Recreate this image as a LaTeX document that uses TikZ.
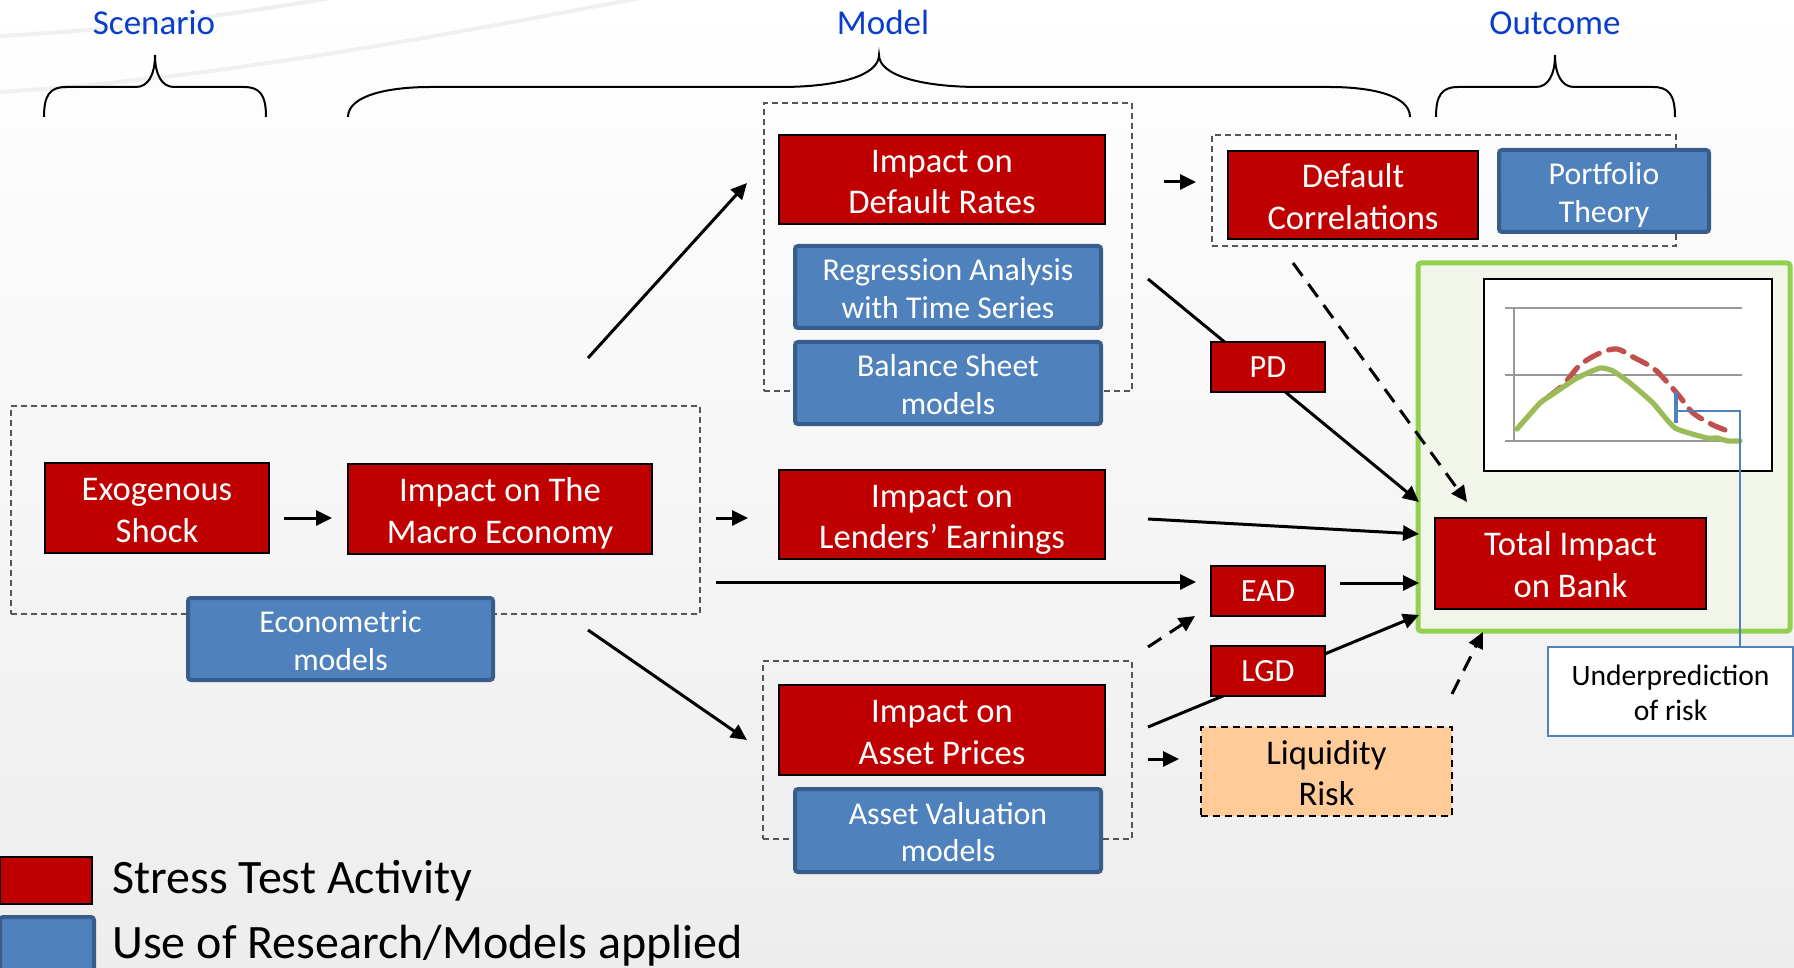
\documentclass[tikz,border=0pt]{standalone}
\usepackage{fontspec}
\setmainfont{Carlito}
\usetikzlibrary{arrows.meta}
\definecolor{stred}{HTML}{C00000}
\definecolor{stblue}{HTML}{4F81BD}
\definecolor{stbluedk}{HTML}{385D8A}
\definecolor{ttlblue}{HTML}{0A3DCC}
\definecolor{bgbot}{HTML}{EDEDED}
\definecolor{grfill}{HTML}{F1F5EA}
\definecolor{grline}{HTML}{92D050}
\definecolor{liqfill}{HTML}{FFCC99}
\definecolor{chgreen}{HTML}{9BBB59}
\definecolor{chred}{HTML}{C0504D}
\definecolor{dboxcol}{HTML}{555555}
\newcommand{\ta}{\rule{0pt}{1.02em}}
\newcommand{\tb}{\rule[-0.24em]{0pt}{0.24em}}
\begin{document}
\begin{tikzpicture}[x=0.5pt,y=-0.5pt,
  redbox/.style={fill=stred,draw=black,line width=1pt,text=white,align=center,inner sep=0pt,
    font=\fontsize{17.3pt}{20.7pt}\selectfont},
  smallred/.style={redbox,font=\fontsize{16.2pt}{19pt}\selectfont},
  bluebox/.style={fill=stblue,draw=stbluedk,line width=2pt,rounded corners=1.5pt,text=white,align=center,inner sep=0pt,
    font=\fontsize{15.9pt}{18.9pt}\selectfont},
  dbox/.style={draw=dboxcol,line width=0.75pt,dash pattern=on 3pt off 2pt,inner sep=0pt},
  title/.style={text=ttlblue,font=\fontsize{17.5pt}{20pt}\selectfont,anchor=base},
  brace/.style={draw=black,line width=1pt},
  arr/.style={draw=black,line width=1.5pt,-{Triangle[length=8pt,width=7.5pt]}},
  darr/.style={arr,dash pattern=on 8pt off 5pt},
  plain/.style={draw=black,line width=1.5pt}
]
\useasboundingbox (0,0) rectangle (1794,968);
\clip (0,0) rectangle (1794,968);
% background
\fill[top color=white,bottom color=bgbot] (0,0) rectangle (1794,968);
\draw[black!6,line width=2pt] (0,36) .. controls (120,30) and (230,15) .. (330,-2);
\draw[black!6,line width=2pt] (0,92) .. controls (200,80) and (420,40) .. (640,-2);

% titles
\node[title] (tscen) at (154,35) {Scenario};
\node[title] (tmodel) at (883,35) {Model};
\node[title] (tout) at (1555,35) {Outcome};

% braces
\draw[brace] (44,117) .. controls (44,95) and (50,87) .. (66,87) -- (136,87)
  .. controls (148,87) and (155,75) .. (155,55) .. controls (155,75) and (162,87) .. (174,87)
  -- (244,87) .. controls (260,87) and (266,95) .. (266,117);
\draw[brace] (348,117) .. controls (348,95) and (390,87) .. (430,87) -- (780,87)
  .. controls (840,87) and (879,75) .. (879,55) .. controls (879,75) and (920,87) .. (980,87)
  -- (1330,87) .. controls (1370,87) and (1410,95) .. (1410,117);
\draw[brace] (1436,117) .. controls (1436,95) and (1442,87) .. (1458,87) -- (1536,87)
  .. controls (1548,87) and (1555,75) .. (1555,55) .. controls (1555,75) and (1562,87) .. (1574,87)
  -- (1653,87) .. controls (1669,87) and (1675,95) .. (1675,117);

% dashed groups
\node[dbox,minimum width=344.5pt,minimum height=104pt] (scen) at (355.5,510) {};
\node[dbox,minimum width=184pt,minimum height=144pt] (mtop) at (948,247) {};
\node[dbox,minimum width=184.5pt,minimum height=89pt] (mbot) at (947.5,750) {};
\node[dbox,minimum width=232pt,minimum height=55.5pt] (obox) at (1444,190.5) {};

% outcome green box and chart
\node[fill=grfill,draw=grline,line width=2.5pt,rounded corners=1.5pt,minimum width=186pt,minimum height=184pt,inner sep=0pt] (green) at (1604,447) {};
\node[fill=white,draw=black,line width=1pt,minimum width=144pt,minimum height=96pt,inner sep=0pt] (chart) at (1628,375) {};
\draw[black!40,line width=0.8pt] (1505,308) -- (1742,308);
\draw[black!40,line width=0.8pt] (1505,375) -- (1742,375);
\draw[black!40,line width=0.8pt] (1505,441) -- (1742,441);
\draw[black!40,line width=0.8pt] (1514,308) -- (1514,441);
\draw[chred,line width=2.6pt,dash pattern=on 8pt off 5pt,line cap=round] plot[smooth,tension=0.5] coordinates
  {(1548,397) (1563,385) (1580,365) (1600,353) (1617,349) (1633,357) (1653,368) (1667,382) (1680,397) (1693,413) (1713,425) (1733,433)};
\draw[chgreen,line width=2.6pt,line cap=round,line join=round] plot[smooth,tension=0.3] coordinates
  {(1517,429) (1540,403) (1553,394) (1577,378) (1600,368) (1613,371) (1630,383) (1653,403) (1675,428) (1707,438) (1717,438) (1728,441) (1740,441)};
\draw[stblue,line width=1.6pt] (1676,392) -- (1676,423);
\coordinate (ubend) at (1740,411);
\draw[stblue,line width=0.75pt] (1676,411) -- (ubend) -- (ubend |- 648,648);

% connectors
\coordinate (a1) at (284,518); \coordinate (a2) at (332,518);
\coordinate (b1) at (716,518); \coordinate (b2) at (748,518);
\coordinate (c1) at (588,358); \coordinate (c2) at (747,183);
\coordinate (d1) at (588,630); \coordinate (d2) at (747,740);
\coordinate (e1) at (716,582); \coordinate (e2) at (1196,582);
\coordinate (f1) at (1164,182); \coordinate (f2) at (1196,182);
\coordinate (g1) at (1148,279); \coordinate (g2) at (1419,502);
\coordinate (h1) at (1293,263); \coordinate (h2) at (1467,502);
\coordinate (i1) at (1148,519); \coordinate (i2) at (1419,534);
\coordinate (j1) at (1340,583); \coordinate (j2) at (1419,583);
\coordinate (k1) at (1148,647); \coordinate (k2) at (1195,616);
\coordinate (l1) at (1148,727); \coordinate (l2) at (1419,615);
\coordinate (m1) at (1148,759); \coordinate (m2) at (1179,759);
\coordinate (n1) at (1452,694); \coordinate (n2) at (1483,632);
\draw[arr] (a1) -- (a2);
\draw[arr] (b1) -- (b2);
\draw[arr] (c1) -- (c2);
\draw[arr] (d1) -- (d2);
\draw[arr] (e1) -- (e2);
\draw[arr] (f1) -- (f2);
\draw[arr] (g1) -- (g2);
\draw[darr] (h1) -- (h2);
\draw[arr] (i1) -- (i2);
\draw[arr] (j1) -- (j2);
\draw[darr] (k1) -- (k2);
\draw[arr] (l1) -- (l2);
\draw[arr] (m1) -- (m2);
\draw[darr] (n1) -- (n2);

% scenario
\node[redbox,minimum width=112pt,minimum height=45pt] (exo) at (157,508) {\ta Exogenous\\Shock\tb};
\node[redbox,minimum width=152pt,minimum height=45pt] (macro) at (500,509) {\ta Impact on The\\Macro Economy\tb};
\node[bluebox,minimum width=152.5pt,minimum height=41pt] (econ) at (340.5,639) {\ta Econometric\\models\tb};

% model
\node[redbox,minimum width=163pt,minimum height=44.5pt] (dr) at (942,179.5) {\ta Impact on\\Default Rates\tb};
\node[bluebox,minimum width=153pt,minimum height=41pt] (reg) at (948,287) {\ta Regression Analysis\\with Time Series\tb};
\node[bluebox,minimum width=153pt,minimum height=41pt] (bs) at (948,383) {\ta Balance Sheet\\models\tb};
\node[redbox,minimum width=163pt,minimum height=44.5pt] (le) at (942,514.5) {\ta Impact on\\Lenders’ Earnings\tb};
\node[redbox,minimum width=163pt,minimum height=45pt] (ap) at (942,730) {\ta Impact on\\Asset Prices\tb};
\node[bluebox,minimum width=153pt,minimum height=41.5pt] (av) at (948,830.5) {\ta Asset Valuation\\models\tb};

% outcome
\node[redbox,minimum width=125pt,minimum height=44pt] (dc) at (1353,195) {\ta Default\\Correlations\tb};
\node[bluebox,minimum width=105pt,minimum height=41pt] (pt) at (1604,191) {\ta Portfolio\\Theory\tb};
\node[smallred,minimum width=57pt,minimum height=25pt] (pd) at (1268,367) {PD};
\node[smallred,minimum width=57pt,minimum height=25pt] (ead) at (1268,591) {EAD};
\node[smallred,minimum width=57pt,minimum height=25pt] (lgd) at (1268,671) {LGD};
\node[fill=liqfill,draw=black,line width=0.9pt,dash pattern=on 3.5pt off 2.5pt,align=center,inner sep=0pt,
  minimum width=125.5pt,minimum height=44.5pt,font=\fontsize{17.3pt}{20.5pt}\selectfont] (liq) at (1326.5,771.5) {\ta Liquidity\\Risk\tb};
\node[redbox,minimum width=135.5pt,minimum height=45.5pt,font=\fontsize{17.3pt}{21pt}\selectfont] (total) at (1570.5,563.5) {\ta Total Impact\\on Bank\tb};
\node[fill=white,draw=stblue,line width=0.75pt,align=center,inner sep=0pt,minimum width=122.5pt,minimum height=44.5pt,
  font=\fontsize{14.8pt}{17.5pt}\selectfont] (under) at (1670.5,691.5) {\ta Underprediction\\of risk\tb};

% legend
\node[fill=stred,draw=black,line width=1pt,minimum width=46pt,minimum height=23.5pt,inner sep=0pt] (legred) at (46,880.5) {};
\node[fill=stblue,draw=stbluedk,line width=2pt,rounded corners=1.5pt,minimum width=47pt,minimum height=28pt,inner sep=0pt] (legblue) at (47,945) {};
\node[anchor=west,inner sep=0pt,font=\fontsize{24pt}{29pt}\selectfont] (legredt) at (112,881) {Stress Test Activity};
\node[anchor=west,inner sep=0pt,font=\fontsize{24pt}{29pt}\selectfont] (legbluet) at (112,946) {Use of Research/Models applied};
\end{tikzpicture}
\end{document}
